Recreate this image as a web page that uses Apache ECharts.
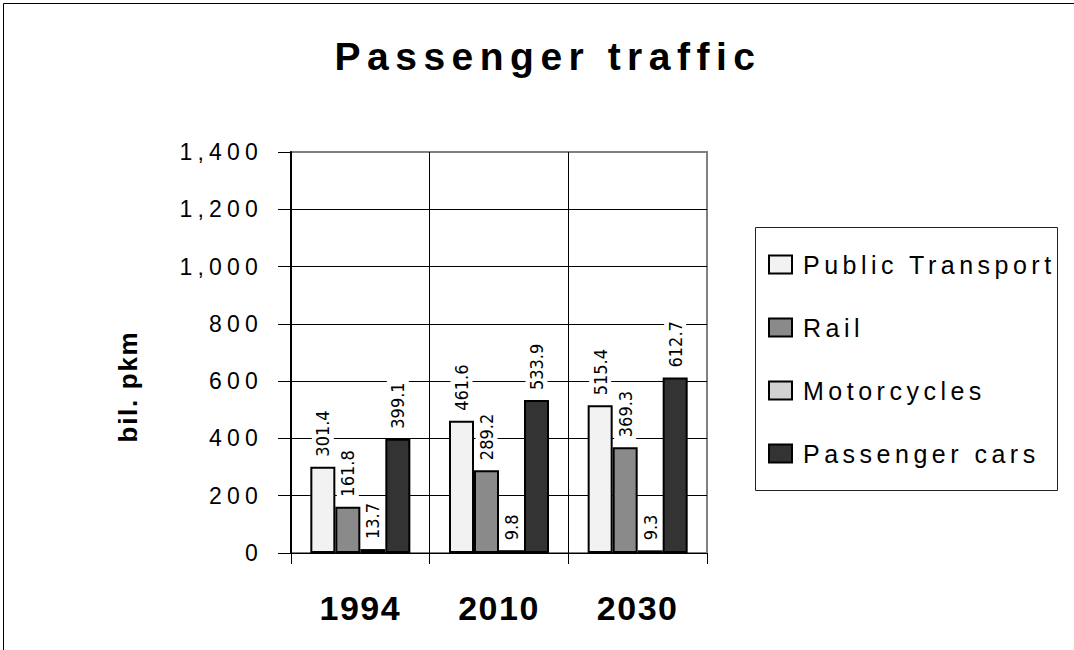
<!DOCTYPE html>
<html>
<head>
<meta charset="utf-8">
<script src="https://cdn.jsdelivr.net/npm/echarts@6/dist/echarts.min.js"></script>
<style>
  html, body { margin: 0; padding: 0; background: #fff; }
  #chart { width: 1074px; height: 650px; }
</style>
</head>
<body>
<div id="chart"></div>
<script>
const titleText = 'Passenger traffic';
const yAxisName = 'bil. pkm';
const categories = ['1994', '2010', '2030'];
const seriesNames = ['Public Transport', 'Rail', 'Motorcycles', 'Passenger cars'];
const publicTransport = [301.4, 461.6, 515.4];
const rail = [161.8, 289.2, 369.3];
const motorcycles = [13.7, 9.8, 9.3];
const passengerCars = [399.1, 533.9, 612.7];
const yTickLabels = ['0', '200', '400', '600', '800', '1,000', '1,200', '1,400'];
const yMin = 0, yMax = 1400, yStep = 200;

const FONT = 'Liberation Sans, Arial, Helvetica, sans-serif';
const NARROW = 'Liberation Sans Narrow, Arial Narrow, DejaVu Sans Condensed, Liberation Sans, sans-serif';
const colors = ['#f2f2f2', '#8a8a8a', '#d2d2d2', '#333333'];
const seriesData = [publicTransport, rail, motorcycles, passengerCars];

function fmt(v) {
  return String(v).replace(/\B(?=(\d{3})+(?!\d))/g, ',');
}

const chart = echarts.init(document.getElementById('chart'), null, { renderer: 'svg' });

const series = seriesNames.map((name, i) => ({
  name: name,
  type: 'bar',
  data: seriesData[i],
  barWidth: 25,
  barGap: '0%',
  itemStyle: { color: colors[i], borderColor: '#000', borderWidth: 2 },
  label: {
    show: true,
    position: 'top',
    rotate: 90,
    align: 'left',
    verticalAlign: 'middle',
    distance: 5,
    fontSize: 18,
    fontFamily: NARROW,
    color: '#000',
    backgroundColor: '#fff',
    padding: [2, 3, 2, 5],
    formatter: p => p.value.toFixed(1)
  }
}));

const ySplitColors = yTickLabels.map((_, i) => i === yTickLabels.length - 1 ? '#808080' : '#000');

chart.setOption({
  animation: false,
  backgroundColor: '#fff',
  textStyle: { fontFamily: FONT },
  title: {
    text: titleText,
    left: 548,
    textAlign: 'center',
    top: 37,
    padding: 0,
    textStyle: { fontSize: 39, fontWeight: 'bold', color: '#000', fontFamily: FONT }
  },
  legend: {
    orient: 'vertical',
    left: 768,
    top: 252,
    padding: 0,
    itemGap: 38,
    itemWidth: 23,
    itemHeight: 18,
    icon: 'rect',
    itemStyle: { borderColor: '#000', borderWidth: 2 },
    data: seriesNames,
    textStyle: { fontSize: 25, color: '#000', fontFamily: FONT, padding: [0, 0, 0, 6] }
  },
  grid: {
    left: 291, right: 367, top: 152, bottom: 97,
    show: true, borderColor: '#808080', borderWidth: 2, backgroundColor: 'transparent',
    containLabel: false
  },
  xAxis: {
    type: 'category',
    data: categories,
    axisLine: { lineStyle: { color: '#000', width: 1 } },
    axisTick: { show: true, length: 11, lineStyle: { color: '#000' } },
    axisLabel: { margin: 38, fontSize: 34, fontWeight: 'bold', color: '#000', fontFamily: FONT },
    splitLine: { show: true, lineStyle: { color: ['#000', '#000', '#000', '#808080'], width: 1 } }
  },
  yAxis: {
    type: 'value',
    min: yMin, max: yMax, interval: yStep,
    name: yAxisName,
    nameLocation: 'middle',
    nameRotate: 90,
    nameGap: 150,
    nameTextStyle: { fontSize: 26, fontWeight: 'bold', color: '#000', fontFamily: FONT, padding: [0, 68, 0, 0] },
    axisLine: { show: true, lineStyle: { color: '#000', width: 2 } },
    axisTick: { show: true, length: 13, lineStyle: { color: '#000' } },
    axisLabel: { margin: 28, fontSize: 23, color: '#000', fontFamily: FONT,
      formatter: v => yTickLabels[Math.round((v - yMin) / yStep)] || fmt(v) },
    splitLine: { show: true, lineStyle: { color: ySplitColors, width: 1 } }
  },
  graphic: [
    { type: 'rect', silent: true, z: 100, shape: { x: 3.5, y: 3.5, width: 1200, height: 1000 },
      style: { fill: 'none', stroke: '#000', lineWidth: 1 } },
    { type: 'rect', silent: true, z: 100, shape: { x: 755.5, y: 227.5, width: 302, height: 263 },
      style: { fill: 'none', stroke: '#222', lineWidth: 1 } }
  ],
  series: series
});

function applySpacing() {
  const texts = chart.getDom().querySelectorAll('text');
  texts.forEach(t => {
    const s = t.textContent;
    let ls = null;
    if (s === titleText) ls = 6.5;
    else if (yTickLabels.includes(s)) ls = 5.2;
    else if (categories.includes(s)) ls = 1.5;
    else if (seriesNames.includes(s)) ls = 4.5;
    else if (s === yAxisName) ls = 1.7;
    if (ls !== null) {
      t.setAttribute('letter-spacing', ls + 'px');
      t.style.letterSpacing = ls + 'px';
    }
  });
}
applySpacing();
chart.on('finished', applySpacing);
</script>
</body>
</html>
